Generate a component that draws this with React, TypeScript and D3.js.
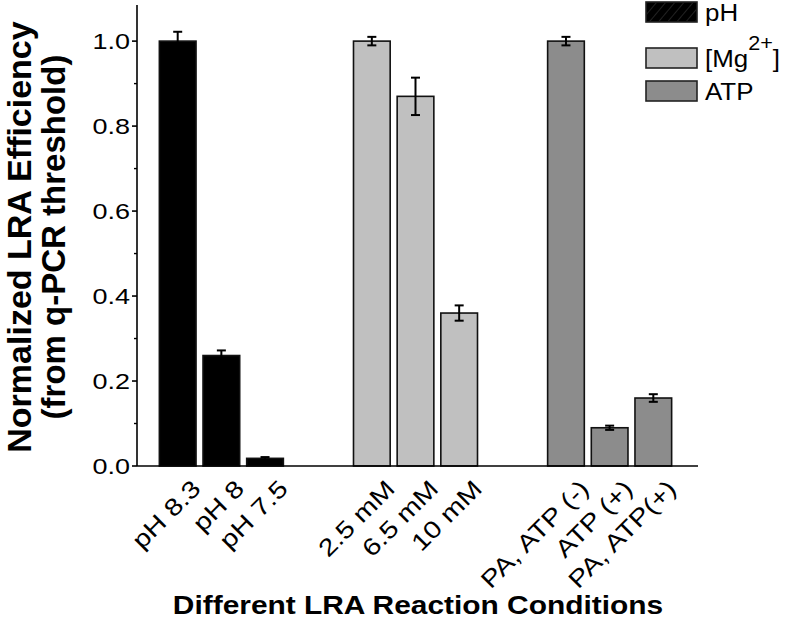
import React from "react";
import * as d3 from "d3";

const groups = ["pH", "Mg", "ATP"];
const groupLabels = ["pH", "[Mg", "ATP"];
const categories = [
  ["pH 8.3", "pH 8", "pH 7.5"],
  ["2.5 mM", "6.5 mM", "10 mM"],
  ["PA, ATP (-)", "ATP (+)", "PA, ATP(+)"],
];
const values = [
  [1.0, 0.26, 0.018],
  [1.0, 0.87, 0.36],
  [1.0, 0.09, 0.16],
];
const errors = [
  [0.022, 0.012, 0.003],
  [0.01, 0.044, 0.018],
  [0.01, 0.005, 0.009],
];
const colors = ["#000000", "#c0c0c0", "#8c8c8c"];
const yTicks = [0, 0.2, 0.4, 0.6, 0.8, 1.0];
const yMinor = [0.1, 0.3, 0.5, 0.7, 0.9];

const FONT = "'Liberation Sans', Arial, Helvetica, sans-serif";

export default function App() {
  const W = 788, H = 619;
  const x0 = 137, x1 = 698, yBase = 466;
  const y = d3.scaleLinear().domain([0, 1.085]).range([yBase, 5]);
  const gx = d3.scalePoint<string>().domain(groups).range([134, 697]).padding(0.45);
  const inner = d3.scaleBand<number>().domain([0, 1, 2]).range([-65.5, 65.5]).paddingInner(0.16).paddingOuter(0.08);
  const bw = inner.bandwidth();

  const bars: any[] = [];
  groups.forEach((g, gi) => {
    categories[gi].forEach((c, i) => {
      const xl = (gx(g) as number) + (inner(i) as number);
      bars.push({ gi, i, c, v: values[gi][i], e: errors[gi][i], xl, cx: xl + bw / 2 });
    });
  });

  return (
    <div style={{ position: "absolute", left: 0, top: 0 }}>
      <svg width={W} height={H} style={{ display: "block", background: "#fff" }}>
        <defs>
          <pattern id="hatch" width="7" height="7" patternUnits="userSpaceOnUse" patternTransform="rotate(40)">
            <line x1="0" y1="0" x2="0" y2="7" stroke="#555" strokeWidth="0.8" />
          </pattern>
        </defs>
        {/* bars */}
        {bars.map((b, k) => (
          <g key={k}>
            <rect x={b.xl} y={y(b.v)} width={bw} height={yBase - y(b.v)} fill={colors[b.gi]} stroke="#111" strokeWidth={1.6} />
            <line x1={b.cx} x2={b.cx} y1={y(b.v + b.e)} y2={y(b.v - b.e)} stroke="#000" strokeWidth={2} />
            <line x1={b.cx - 4.5} x2={b.cx + 4.5} y1={y(b.v + b.e)} y2={y(b.v + b.e)} stroke="#000" strokeWidth={2} />
            <line x1={b.cx - 4.5} x2={b.cx + 4.5} y1={y(b.v - b.e)} y2={y(b.v - b.e)} stroke="#000" strokeWidth={2} />
            <text
              transform={`translate(${b.cx + 12},${yBase + 12}) rotate(-45) scale(1.2,1)`}
              textAnchor="end"
              dominantBaseline="hanging"
              fontFamily={FONT}
              fontSize={24}
              fill="#000"
            >
              {b.c}
            </text>
          </g>
        ))}
        {/* axes */}
        <line x1={x0} x2={x0} y1={5} y2={yBase} stroke="#000" strokeWidth={1.6} />
        <line x1={x0} x2={x1} y1={yBase} y2={yBase} stroke="#000" strokeWidth={1.6} />
        {yTicks.map((t) => (
          <g key={t}>
            <line x1={x0 - 5} x2={x0} y1={y(t)} y2={y(t)} stroke="#000" strokeWidth={1.6} />
            <text
              transform={`translate(${x0 - 7},${y(t)}) scale(1.2,1)`}
              dy="0.36em"
              textAnchor="end"
              fontFamily={FONT}
              fontSize={22.5}
              fill="#000"
            >
              {d3.format(".1f")(t)}
            </text>
          </g>
        ))}
        {yMinor.map((t) => (
          <line key={t} x1={x0 - 3} x2={x0} y1={y(t)} y2={y(t)} stroke="#000" strokeWidth={1.4} />
        ))}
        {/* axis titles */}
        <text transform="translate(31,237) rotate(-90)" textAnchor="middle" fontFamily={FONT} fontSize={34} fontWeight="bold">
          Normalized LRA Efficiency
        </text>
        <text transform="translate(65,237) rotate(-90)" textAnchor="middle" fontFamily={FONT} fontSize={33} fontWeight="bold">
          (from q-PCR threshold)
        </text>
        <text transform="translate(418,614) scale(1.15,1)" textAnchor="middle" fontFamily={FONT} fontSize={26} fontWeight="bold">
          Different LRA Reaction Conditions
        </text>
        {/* legend */}
        {groups.map((g, gi) => {
          const ly = [2, 48, 81][gi];
          return (
            <g key={g}>
              <rect x={646} y={ly} width={51} height={20} fill={colors[gi]} stroke="#222" strokeWidth={1.6} />
              {gi === 0 && <rect x={647} y={ly + 1} width={49} height={18} fill="url(#hatch)" />}
              <text transform={`translate(705,${ly + 19}) scale(1.08,1)`} fontFamily={FONT} fontSize={24}>
                {groupLabels[gi]}
                {gi === 1 && (
                  <>
                    <tspan dy={-17} fontSize={20}>2+</tspan>
                    <tspan dy={17}>]</tspan>
                  </>
                )}
              </text>
            </g>
          );
        })}
      </svg>
    </div>
  );
}
